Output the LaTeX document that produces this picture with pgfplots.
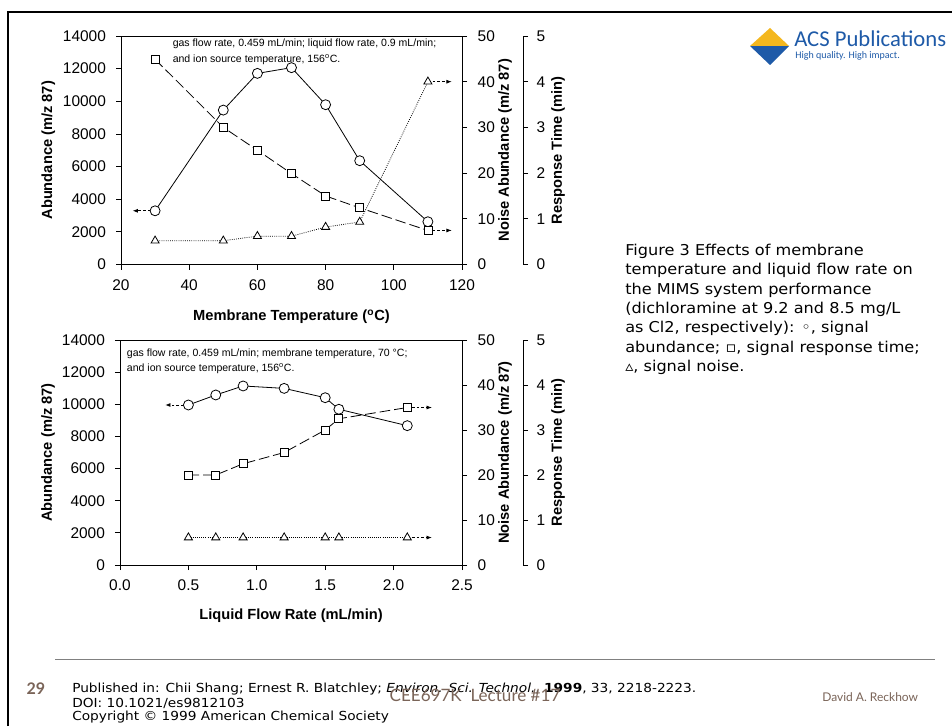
\documentclass[border=0pt]{standalone}
\usepackage{fontspec}
\setmainfont{Liberation Sans}
\newfontfamily\verd[FakeStretch=1.08]{DejaVu Sans}
\newfontfamily\verdf[FakeStretch=1.1]{DejaVu Sans}
\newfontfamily\carl{Carlito}
\newfontfamily\narrow{Lato}
\usepackage{pgfplots}
\pgfplotsset{compat=1.18}
\usetikzlibrary{arrows.meta}
\definecolor{acsblue}{RGB}{30,90,168}
\definecolor{acsyellow}{RGB}{244,183,30}
\definecolor{brn}{RGB}{122,100,88}
\newcommand\PP[2]{({(#1)*0.75pt},{(726-(#2))*0.75pt})}
\tikzset{note/.style={anchor=west, inner sep=0pt, font=\fontsize{7.9}{9}\selectfont}}
\pgfplotsset{
  base/.style={scale only axis, clip=false,
    /pgf/number format/assume math mode=true,
    /pgf/number format/1000 sep={}, scaled ticks=false,
    tick align=outside, major tick length=3.75pt,
    every tick/.style={black, line width=0.6pt},
    axis line style={line width=0.7pt},
    tick label style={font=\fontsize{11.6}{13}\selectfont},
    label style={font=\bfseries\fontsize{11}{13}\selectfont}},
  leftax/.style={base, xtick pos=left, ytick pos=left,
    xticklabel style={yshift=-4pt}, yticklabel style={xshift=-4pt},
    ylabel={Abundance (m/z 87)}},
  noiseax/.style={base, ymin=0, ymax=50, axis x line=none, axis y line*=right,
    ytick={0,10,...,50}, yticklabel style={xshift=4.5pt},
    ylabel={Noise Abundance (m/z 87)},
    ylabel style={at={(axis description cs:#1,0.5)}, anchor=center}},
  respax/.style={base, width=10pt, xmin=0, xmax=1, ymin=0, ymax=5,
    axis x line=none, axis y line*=right, ytick={0,1,...,5},
    yticklabel style={xshift=3pt},
    ylabel={Response Time (min)},
    ylabel style={at={(axis description cs:3.625,0.5)}, anchor=center}},
  arr/.style={line width=0.6pt, dash pattern=on 2pt off 1.5pt, -{Latex[length=4pt,width=3pt]}},
  circ/.style={line width=0.6pt, mark=*, mark size=3.75pt, mark options={fill=white, draw=black, solid}},
  sq/.style={line width=0.6pt, dash pattern=on 8pt off 3pt, mark=square*, mark size=3pt, mark options={fill=white, draw=black, solid}},
  tri/.style={line width=0.6pt, densely dotted, mark=triangle*, mark size=3.5pt, mark options={fill=white, draw=black, solid}},
}
\begin{document}
\begin{tikzpicture}
\fill[white] (0,0) rectangle (714pt,544.5pt);
\useasboundingbox (0,0) rectangle (714pt,544.5pt);
% frame
\draw[line width=1.5pt] \PP{8}{726} -- \PP{8}{12} -- \PP{952}{12};

% ===== TOP CHART =====
\begin{axis}[leftax, at={(90.75pt,346.125pt)}, anchor=south west,
  width=255.75pt, height=171.375pt,
  xmin=20, xmax=120, ymin=0, ymax=14000,
  xtick={20,40,...,120}, ytick={0,2000,...,14000},
  xlabel={Membrane Temperature (\textsuperscript{o}C)},
  xlabel style={at={(axis description cs:0.5,-0.23)}, anchor=center},
  ylabel style={at={(axis description cs:-0.213,0.5)}, anchor=center}]
\addplot[arr] coordinates {(30,3290) (23.4,3290)};
\addplot[circ] coordinates {(30,3290) (50,9460) (60,11710) (70,12060) (80,9790) (90,6360) (110,2620)};
\node[note] at (axis cs:35.1,13510) {gas flow rate, 0.459 mL/min; liquid flow rate, 0.9 mL/min;};
\node[note] at (axis cs:35.1,12570) {and ion source temperature, 156\textsuperscript{o}C.};
\end{axis}
\begin{axis}[noiseax=1.126, at={(90.75pt,346.125pt)}, anchor=south west,
  width=255.75pt, height=171.375pt, xmin=20, xmax=120]
\addplot[arr] coordinates {(110,40) (117,40)};
\addplot[tri] coordinates {(30,5.2) (50,5.2) (60,6.2) (70,6.2) (80,8.2) (90,9.3) (110,40)};
\end{axis}
\begin{axis}[base, at={(90.75pt,346.125pt)}, anchor=south west,
  width=255.75pt, height=171.375pt,
  xmin=20, xmax=120, ymin=0, ymax=5, hide axis]
\addplot[arr] coordinates {(110,0.745) (117,0.745)};
\addplot[sq] coordinates {(30,4.49) (50,3.0) (60,2.5) (70,1.99) (80,1.5) (90,1.24) (110,0.745)};
\end{axis}
\begin{axis}[respax, at={(392.25pt,346.125pt)}, anchor=south east, height=171.375pt]
\addplot[draw=none] coordinates {(0,0)};
\end{axis}

% ===== BOTTOM CHART =====
\begin{axis}[leftax, at={(90pt,120.75pt)}, anchor=south west,
  width=256.5pt, height=168.75pt,
  xmin=0, xmax=2.5, ymin=0, ymax=14000,
  xtick={0,0.5,1,1.5,2,2.5}, ytick={0,2000,...,14000},
  xticklabel style={/pgf/number format/.cd, fixed, fixed zerofill, precision=1},
  xlabel={Liquid Flow Rate (mL/min)},
  xlabel style={at={(axis description cs:0.5,-0.225)}, anchor=center},
  ylabel style={at={(axis description cs:-0.21,0.5)}, anchor=center}]
\addplot[arr] coordinates {(0.5,9956) (0.33,9956)};
\addplot[circ] coordinates {(0.5,9956) (0.7,10580) (0.9,11140) (1.2,10990) (1.5,10410) (1.6,9690) (2.1,8670)};
\node[note] at (axis cs:0.049,13170) {gas flow rate, 0.459 mL/min; membrane temperature, 70 \textdegree C;};
\node[note] at (axis cs:0.049,12200) {and ion source temperature, 156\textsuperscript{o}C.};
\end{axis}
\begin{axis}[noiseax=1.1257, at={(90pt,120.75pt)}, anchor=south west,
  width=256.5pt, height=168.75pt, xmin=0, xmax=2.5]
\addplot[arr] coordinates {(2.1,6.1) (2.28,6.1)};
\addplot[tri] coordinates {(0.5,6.1) (0.7,6.1) (0.9,6.1) (1.2,6.1) (1.5,6.1) (1.6,6.1) (2.1,6.1)};
\end{axis}
\begin{axis}[base, at={(90pt,120.75pt)}, anchor=south west,
  width=256.5pt, height=168.75pt,
  xmin=0, xmax=2.5, ymin=0, ymax=5, hide axis]
\addplot[arr] coordinates {(2.1,3.5) (2.28,3.5)};
\addplot[sq] coordinates {(0.5,2.0) (0.7,2.0) (0.9,2.25) (1.2,2.5) (1.5,3.0) (1.6,3.25) (2.1,3.5)};
\end{axis}
\begin{axis}[respax, at={(392.25pt,120.75pt)}, anchor=south east, height=168.75pt]
\addplot[draw=none] coordinates {(0,0)};
\end{axis}

% ===== CAPTION =====
\node[anchor=north west, inner sep=0pt, align=left, font=\verd\fontsize{11.2}{14.5}\selectfont] at \PP{625}{244}
{Figure 3 Effects of membrane\\temperature and liquid flow rate on\\the MIMS system performance\\(dichloramine at 9.2 and 8.5 mg/L\\as Cl2, respectively): ◦, signal\\abundance; ▫, signal response time;\\▵, signal noise.};

% ===== ACS LOGO =====
\fill[acsblue] \PP{750}{46} -- \PP{789}{46} -- \PP{770}{65} -- cycle;
\fill[acsyellow] \PP{750}{46} -- \PP{770}{28} -- \PP{789}{46} -- cycle;
\node[anchor=base west, inner sep=0pt, text=acsblue, font=\carl\fontsize{17}{19}\selectfont] at \PP{794}{46.5} {ACS Publications};
\node[anchor=west, inner sep=0pt, text=acsblue, font=\carl\fontsize{7.5}{9}\selectfont] at \PP{795}{55.5} {High quality. High impact.};

% ===== FOOTER =====
\draw[gray, line width=0.75pt] \PP{55}{659} -- \PP{935}{659};
\node[text=brn, font=\narrow\bfseries\fontsize{12}{14}\selectfont] at \PP{36}{689} {29};
\node[anchor=west, inner sep=0pt, font=\verdf\fontsize{9.35}{11}\selectfont] at \PP{72}{689}
 {Published in: Chii Shang; Ernest R. Blatchley; \textit{Environ. Sci. Technol.}, \textbf{1999}, 33, 2218-2223.};
\node[anchor=west, inner sep=0pt, font=\verdf\fontsize{9.35}{11}\selectfont] at \PP{72}{703} {DOI: 10.1021/es9812103};
\node[anchor=west, inner sep=0pt, font=\verdf\fontsize{9.35}{11}\selectfont] at \PP{72}{717} {Copyright © 1999 American Chemical Society};
\node[text=brn, font=\narrow\fontsize{12.8}{14}\selectfont] at \PP{475}{695} {CEE697K\ \ Lecture \#17};
\node[anchor=west, inner sep=0pt, text=brn, font=\narrow\fontsize{9}{10}\selectfont] at \PP{822}{697} {David A. Reckhow};
\end{tikzpicture}
\end{document}
